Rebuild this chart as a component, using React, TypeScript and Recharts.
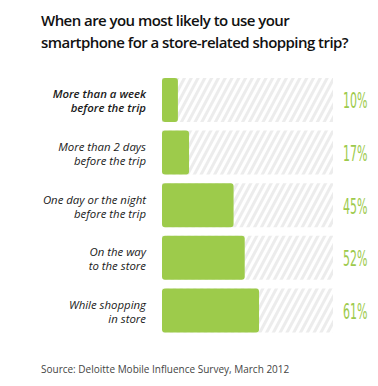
import React from "react";
import { BarChart, Bar, XAxis, YAxis } from "recharts";

const categories = [
  "More than a week\nbefore the trip",
  "More than 2 days\nbefore the trip",
  "One day or the night\nbefore the trip",
  "On the way\nto the store",
  "While shopping\nin store",
];
const values = [10, 17, 45, 52, 61];
const valueLabels = ["10%", "17%", "45%", "52%", "61%"];
const domainMax = 107.5;

const data = categories.map((c, i) => ({ cat: c, value: values[i], pct: valueLabels[i] }));

const CatTick = (props: any) => {
  const { x, y, payload, index } = props;
  const lines = String(payload.value).split("\n");
  return (
    <text
      x={x}
      y={y}
      textAnchor="end"
      fontFamily="'Open Sans', 'Noto Sans', sans-serif"
      fontStyle="italic"
      fontSize={11.4}
      fill="#1a1a1a"
      fontWeight={index === 0 ? 600 : 400}
    >
      {lines.map((l, i) => (
        <tspan key={i} x={x} dy={i === 0 ? -2 : 14}>
          {l}
        </tspan>
      ))}
    </text>
  );
};

const PctTick = (props: any) => {
  const { x, y, payload } = props;
  return (
    <text
      transform={`translate(${x},${y + 8}) scale(0.5,1)`}
      textAnchor="start"
      fontFamily="'DejaVu Sans', sans-serif"
      fontWeight={400}
      fontSize={22}
      fill="#9dca4c"
    >
      {payload.value}
    </text>
  );
};

export default function App() {
  return (
    <div
      style={{
        position: "fixed",
        left: 0,
        top: 0,
        width: 378,
        height: 386,
        background: "#fff",
        fontFamily: "'Open Sans', 'Noto Sans', sans-serif",
      }}
    >
      <div
        style={{
          position: "absolute",
          left: 41,
          top: 9,
          fontSize: 15,
          lineHeight: "22px",
          color: "#111",
          fontWeight: 600,
          letterSpacing: -0.55,
        }}
      >
        When are you most likely to use your
        <br />
        smartphone for a store-related shopping trip?
      </div>
      <BarChart
        width={378}
        height={386}
        data={data}
        layout="vertical"
        margin={{ top: 74, right: 0, bottom: 49, left: 0 }}
        barSize={44}
        style={{ position: "absolute", left: 0, top: 0 }}
      >
        <defs>
          <pattern
            id="stripes"
            patternUnits="userSpaceOnUse"
            width={6}
            height={6}
            patternTransform="rotate(28)"
          >
            <rect width={6} height={6} fill="#ffffff" />
            <rect width={3} height={6} fill="#ececec" />
          </pattern>
        </defs>
        <XAxis type="number" domain={[0, domainMax]} hide />
        <YAxis
          yAxisId="left"
          type="category"
          dataKey="cat"
          width={162}
          axisLine={false}
          tickLine={false}
          tick={<CatTick />}
          tickMargin={10}
          interval={0}
        />
        <YAxis
          yAxisId="right"
          orientation="right"
          type="category"
          dataKey="pct"
          width={45}
          axisLine={false}
          tickLine={false}
          tick={<PctTick />}
          tickMargin={4}
          interval={0}
        />
        <Bar
          yAxisId="left"
          dataKey="value"
          fill="#9dcb4b"
          radius={3}
          background={{ fill: "url(#stripes)" }}
          isAnimationActive={false}
        />
      </BarChart>
      <div
        style={{
          position: "absolute",
          left: 41,
          top: 362,
          fontSize: 10,
          color: "#444",
        }}
      >
        Source: Deloitte Mobile Influence Survey, March 2012
      </div>
    </div>
  );
}
